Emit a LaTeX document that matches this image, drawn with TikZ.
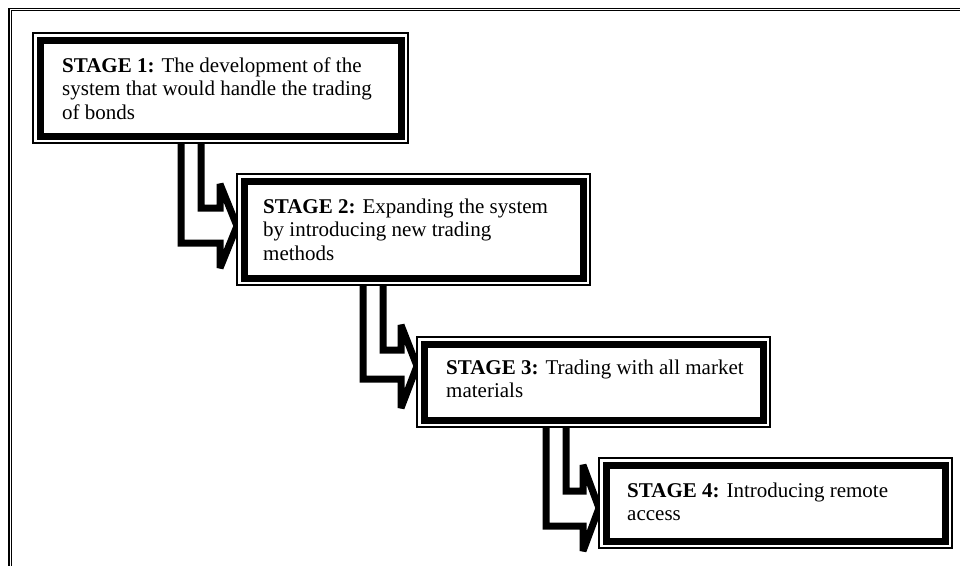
\documentclass[tikz,border=0pt]{standalone}
\usepackage{fontspec}
\setmainfont{Liberation Serif}
\pgfdeclarelayer{background}
\pgfsetlayers{background,main}
\begin{document}
\begin{tikzpicture}[x=1pt,y=-1pt,
  stagebox/.style={draw, line width=1.3pt, fill=white, inner sep=0pt, outer sep=0pt, anchor=north west},
  thickrim/.style={line width=7pt},
  stagetext/.style={anchor=base west, inner sep=0pt, font=\fontsize{21}{23.6}\selectfont},
  blockarrow/.style={draw, fill=white, line width=7pt, line join=miter, miter limit=2},
  framestyle/.style={double, line width=1.2pt, double distance=0.8pt}]
\useasboundingbox (0,0) rectangle (960,565);
% outer frame (cropped at right and bottom)
\draw[framestyle] (10,570) -- (10,9.5) -- (965,9.5);
% stage boxes
\node[stagebox, minimum width=375pt, minimum height=110pt] (s1) at (33,33) {};
\node[stagebox, minimum width=353pt, minimum height=111pt] (s2) at (237,174) {};
\node[stagebox, minimum width=353pt, minimum height=90pt] (s3) at (417,337) {};
\node[stagebox, minimum width=353pt, minimum height=90pt] (s4) at (599,458) {};
\foreach \b in {s1,s2,s3,s4}{
  \draw[thickrim] ([shift={(7,7)}]\b.north west) rectangle ([shift={(-7,-7)}]\b.south east);
}
% texts
\node[stagetext] (t1) at (62,72) {\parbox[t]{340pt}{\raggedright\textbf{STAGE 1:} The development of the\\system that would handle the trading\\of bonds}};
\node[stagetext] (t2) at (263,213) {\parbox[t]{320pt}{\raggedright\textbf{STAGE 2:} Expanding the system\\by introducing new trading\\methods}};
\node[stagetext] (t3) at (446,374) {\parbox[t]{310pt}{\raggedright\textbf{STAGE 3:} Trading with all market\\materials}};
\node[stagetext] (t4) at (627,497) {\parbox[t]{310pt}{\raggedright\textbf{STAGE 4:} Introducing remote\\access}};
% block arrows (behind boxes)
\begin{pgfonlayer}{background}
\draw[blockarrow] (181,0 |- s1.center) -- (181,243) -- (220,243) -- (220,268)
  -- (s2.west |- 0,226) -- (220,184) -- (220,208) -- (201,208) -- (201,0 |- s1.center);
\draw[blockarrow] (363,0 |- s2.center) -- (363,379) -- (401,379) -- (401,408)
  -- (s3.west |- 0,366) -- (401,325) -- (401,350) -- (383,350) -- (383,0 |- s2.center);
\draw[blockarrow] (546,0 |- s3.center) -- (546,526) -- (583,526) -- (583,551)
  -- (s4.west |- 0,508) -- (583,465) -- (583,491) -- (566,491) -- (566,0 |- s3.center);
\end{pgfonlayer}
\end{tikzpicture}
\end{document}
